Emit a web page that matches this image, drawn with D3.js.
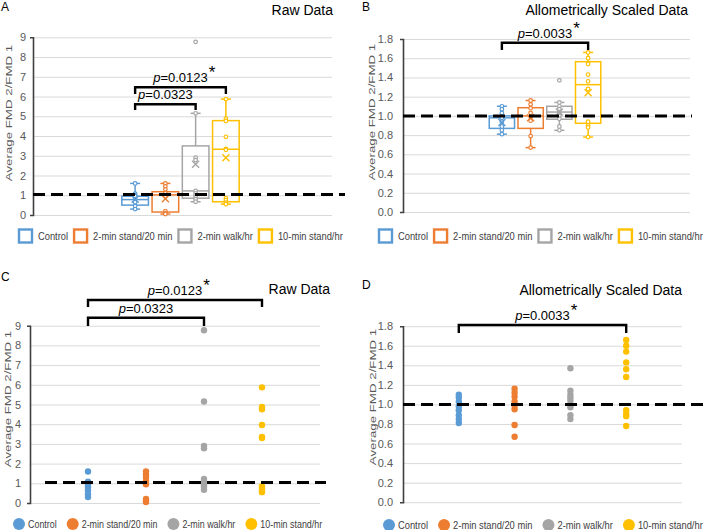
<!DOCTYPE html>
<html><head><meta charset="utf-8">
<script src="https://cdn.jsdelivr.net/npm/d3@7"></script>
<style>body{margin:0;background:#fff}svg{display:block}text{font-family:"Liberation Sans",Arial,sans-serif}</style>
</head><body><svg id="c" width="707" height="530"></svg>
<script>
const groups = ["Control", "2-min stand/20 min", "2-min walk/hr", "10-min stand/hr"];
const colors = ["#5b9bd5", "#ed7d31", "#a5a5a5", "#ffc000"];

// individual FMD2/FMD1 ratios, raw
const rawControl = [1.6, 1.08, 1.0, 0.95, 0.8, 0.65, 0.45, 0.3];
const rawStand20 = [1.6, 1.45, 1.3, 1.1, 0.95, 0.2, 0.1, 0.05];
const rawWalk = [8.77, 5.15, 2.9, 2.78, 1.22, 1.1, 1.0, 0.9, 0.8, 0.67];
const rawStand10 = [5.87, 4.88, 4.76, 3.96, 3.35, 3.3, 0.85, 0.75, 0.62, 0.55];

// individual ratios, allometrically scaled
const scaledControl = [1.10, 1.07, 1.03, 0.98, 0.94, 0.89, 0.85, 0.81];
const scaledStand20 = [1.16, 1.12, 1.08, 1.03, 0.99, 0.95, 0.79, 0.67];
const scaledWalk = [1.37, 1.14, 1.10, 1.07, 1.04, 1.00, 0.97, 0.89, 0.85];
const scaledStand10 = [1.66, 1.60, 1.54, 1.43, 1.36, 1.28, 0.94, 0.90, 0.88, 0.78];

// box-plot summaries (panel A)
const rawQ1 = [0.5, 0.15, 0.85, 0.67];
const rawMedian = [0.78, 1.02, 1.22, 3.33];
const rawQ3 = [0.95, 1.18, 3.5, 4.78];
const rawWhiskerLow = [0.3, 0.05, 0.67, 0.55];
const rawWhiskerHigh = [1.6, 1.6, 5.15, 5.87];
const rawMean = [0.8, 0.82, 2.57, 2.9];
const rawOutliers = [[], [], [8.77], []];

// box-plot summaries (panel B)
const scaledQ1 = [0.87, 0.87, 0.965, 0.923];
const scaledMedian = [0.98, 1.0, 1.04, 1.325];
const scaledQ3 = [1.0, 1.085, 1.10, 1.564];
const scaledWhiskerLow = [0.81, 0.67, 0.85, 0.78];
const scaledWhiskerHigh = [1.10, 1.16, 1.14, 1.66];
const scaledMean = [0.93, 0.98, 1.04, 1.24];
const scaledOutliers = [[], [], [1.37], []];

const rawTicks = [0, 1, 2, 3, 4, 5, 6, 7, 8, 9];
const scaledTicks = [0, 0.2, 0.4, 0.6, 0.8, 1.0, 1.2, 1.4, 1.6, 1.8];

const rawComparisons = [{a: 0, b: 2, p: "0.0323", star: false}, {a: 0, b: 3, p: "0.0123", star: true}];
const scaledComparisons = [{a: 0, b: 3, p: "0.0033", star: true}];

const rawValues = [rawControl, rawStand20, rawWalk, rawStand10];
const scaledValues = [scaledControl, scaledStand20, scaledWalk, scaledStand10];

const svg = d3.select("#c");

function frame(o) {
  const y = d3.scaleLinear().domain([0, o.max]).range([o.yb, o.yt]);
  const g = svg.append("g");
  g.append("g").attr("transform", `translate(${o.x0},0)`)
    .call(d3.axisLeft(y).tickValues(o.ticks).tickSize(-(o.x1 - o.x0)).tickFormat(""))
    .call(a => a.select(".domain").remove())
    .selectAll("line").attr("stroke", "#d9d9d9").attr("stroke-width", 1);
  const ax = g.append("g").attr("transform", `translate(${o.x0},0)`)
    .call(d3.axisLeft(y).tickValues(o.ticks).tickSize(0).tickSizeOuter(3).tickPadding(o.pad).tickFormat(d3.format(o.fmt)));
  ax.select(".domain").attr("stroke", "#404040").attr("stroke-width", 1.6);
  ax.selectAll("text").attr("fill", "#595959").attr("font-size", 11).attr("font-family", '"Liberation Sans",Arial,sans-serif');
  g.append("text").attr("transform", `translate(${o.labX},${o.labY}) rotate(-90) scale(1,0.75)`)
    .attr("text-anchor", "middle").attr("dy", "0.35em").attr("font-size", 13.3).attr("fill", "#595959")
    .text("Average FMD 2/FMD 1");
  g.append("text").attr("x", o.letX).attr("y", o.letY).attr("font-size", 12).attr("fill", "#000").text(o.letter);
  g.append("text").attr("x", o.titX).attr("y", o.titY).attr("text-anchor", "end").attr("font-size", 14).attr("fill", "#000").text(o.title);
  return {g, y};
}

function refLine(g, y, v, xa, xb) {
  g.append("line").attr("x1", xa).attr("x2", xb).attr("y1", y(v)).attr("y2", y(v))
    .attr("stroke", "#000").attr("stroke-width", 3).attr("stroke-dasharray", "12,6");
}

function bracket(g, xa, xb, yTop, yBot, p, star) {
  g.append("path").attr("d", `M${xa},${yBot}V${yTop}H${xb}V${yBot}`)
    .attr("fill", "none").attr("stroke", "#000").attr("stroke-width", 2.4);
  const cx = (xa + xb) / 2;
  const t = g.append("text").attr("font-size", 13).attr("fill", "#000").attr("y", yTop - 5);
  t.append("tspan").attr("font-style", "italic").text("p");
  t.append("tspan").text("=" + p);
  const w = t.node().getComputedTextLength();
  t.attr("x", cx - w / 2);
  if (star) {
    g.append("text").attr("x", cx + w / 2 + 1).attr("y", yTop - 9).attr("font-size", 17).attr("fill", "#000").text("*");
  }
}

function squeezedText(g, x, y, s, fs, sx) {
  const t = g.append("text").attr("transform", `translate(${x},${y}) scale(${sx},1)`)
    .attr("dy", "0.35em").attr("font-size", fs).attr("fill", "#404040").text(s);
  return t.node().getComputedTextLength() * sx;
}

function boxLegend(g, x0, yc) {
  let x = x0;
  groups.forEach((name, i) => {
    g.append("rect").attr("x", x + 1).attr("y", yc - 6.5).attr("width", 13).attr("height", 13)
      .attr("fill", "#fff").attr("stroke", colors[i]).attr("stroke-width", 2.4);
    const w = squeezedText(g, x + 20, yc, name, 11, 0.85);
    x = x + 20 + w + 5;
  });
}

function dotLegend(g, x0, yc, sx) {
  let x = x0;
  groups.forEach((name, i) => {
    g.append("circle").attr("cx", x).attr("cy", yc).attr("r", 6).attr("fill", colors[i]);
    const w = squeezedText(g, x + 9, yc, name, 11, sx);
    x = x + 9 + w + 16;
  });
}

function boxPanel(o, vals, q1, med, q3, lo, hi, mean, outl, comps) {
  const {g, y} = frame(o);
  const x = d3.scaleBand().domain(groups).range(o.band).paddingInner(0.12).paddingOuter(0.06);
  const bw = x.bandwidth();
  groups.forEach((name, i) => {
    const c = colors[i], cx = x(name) + bw / 2;
    const bg = g.append("g").attr("stroke", c).attr("fill", "none").attr("stroke-width", 1.5);
    bg.append("line").attr("x1", cx).attr("x2", cx).attr("y1", y(q3[i])).attr("y2", y(hi[i]));
    bg.append("line").attr("x1", cx).attr("x2", cx).attr("y1", y(q1[i])).attr("y2", y(lo[i]));
    bg.append("line").attr("x1", cx - 5).attr("x2", cx + 5).attr("y1", y(hi[i])).attr("y2", y(hi[i]));
    bg.append("line").attr("x1", cx - 5).attr("x2", cx + 5).attr("y1", y(lo[i])).attr("y2", y(lo[i]));
    bg.append("rect").attr("x", x(name)).attr("width", bw).attr("y", y(q3[i])).attr("height", y(q1[i]) - y(q3[i]));
    bg.append("line").attr("x1", x(name)).attr("x2", x(name) + bw).attr("y1", y(med[i])).attr("y2", y(med[i]));
    const inner = vals[i].filter(v => !outl[i].includes(v));
    bg.selectAll("circle.in").data(inner).join("circle").attr("class", "in")
      .attr("cx", cx).attr("cy", d => y(d)).attr("r", 1.8).attr("fill", "#fff").attr("stroke-width", 1.2);
    bg.selectAll("circle.out").data(outl[i]).join("circle").attr("class", "out")
      .attr("cx", cx).attr("cy", d => y(d)).attr("r", 1.8).attr("fill", "#fff").attr("stroke-width", 1.2);
    const m = y(mean[i]), s = 3.5;
    bg.append("path").attr("d", `M${cx - s},${m - s}L${cx + s},${m + s}M${cx - s},${m + s}L${cx + s},${m - s}`).attr("stroke-width", 1.4);
  });
  refLine(g, y, o.ref, o.x0, o.refEnd);
  comps.forEach((cmp, k) => {
    const xa = x(groups[cmp.a]) + bw / 2, xb = x(groups[cmp.b]) + bw / 2;
    bracket(g, xa, xb, o.brk[k][0], o.brk[k][1], cmp.p, cmp.star);
  });
  boxLegend(g, o.legX, o.legY);
}

function dotPanel(o, vals, comps) {
  const {g, y} = frame(o);
  const x = d3.scaleLinear().domain([0, groups.length + 1]).range([o.x0, o.x1]);
  groups.forEach((name, i) => {
    g.append("g").selectAll("circle").data(vals[i]).join("circle")
      .attr("cx", x(i + 1)).attr("cy", d => y(d)).attr("r", 3.2).attr("fill", colors[i]);
  });
  refLine(g, y, o.ref, o.refStart, o.refEnd);
  comps.forEach((cmp, k) => {
    bracket(g, x(cmp.a + 1), x(cmp.b + 1), o.brk[k][0], o.brk[k][1], cmp.p, cmp.star);
  });
  dotLegend(g, o.legX, o.legY, o.legSx);
}

boxPanel({x0: 33, x1: 332, yb: 215, yt: 37.3, max: 9, ticks: rawTicks, fmt: "d", pad: 7,
  labX: 8, labY: 113, letter: "A", letX: 1, letY: 11, title: "Raw Data", titX: 333, titY: 15,
  band: [120, 241], ref: 1.04, refEnd: 345, brk: [[104.3, 110], [87.3, 94]], legX: 18, legY: 236},
  rawValues, rawQ1, rawMedian, rawQ3, rawWhiskerLow, rawWhiskerHigh, rawMean, rawOutliers, rawComparisons);

boxPanel({x0: 403, x1: 690, yb: 212, yt: 39, max: 1.8, ticks: scaledTicks, fmt: ".1f", pad: 10,
  labX: 371, labY: 112, letter: "B", letX: 362, letY: 11, title: "Allometrically Scaled Data", titX: 688, titY: 15,
  band: [487.5, 602.5], ref: 1.0, refEnd: 692, brk: [[42.7, 50]], legX: 378, legY: 236},
  scaledValues, scaledQ1, scaledMedian, scaledQ3, scaledWhiskerLow, scaledWhiskerHigh, scaledMean, scaledOutliers, scaledComparisons);

dotPanel({x0: 30, x1: 320, yb: 503, yt: 325.7, max: 9, ticks: rawTicks, fmt: "d", pad: 9,
  labX: 7, labY: 399, letter: "C", letX: 1, letY: 281, title: "Raw Data", titX: 330, titY: 294,
  ref: 1.04, refStart: 45, refEnd: 326, brk: [[317.7, 326], [300, 307]], legX: 19, legY: 524, legSx: 0.81},
  rawValues, rawComparisons);

dotPanel({x0: 403, x1: 682, yb: 502.2, yt: 326.2, max: 1.8, ticks: scaledTicks, fmt: ".1f", pad: 10,
  labX: 372, labY: 397, letter: "D", letX: 362, letY: 289, title: "Allometrically Scaled Data", titX: 682, titY: 295,
  ref: 1.0, refStart: 403, refEnd: 707, brk: [[325, 333]], legX: 389, legY: 525, legSx: 0.85},
  scaledValues, scaledComparisons);
</script></body></html>
